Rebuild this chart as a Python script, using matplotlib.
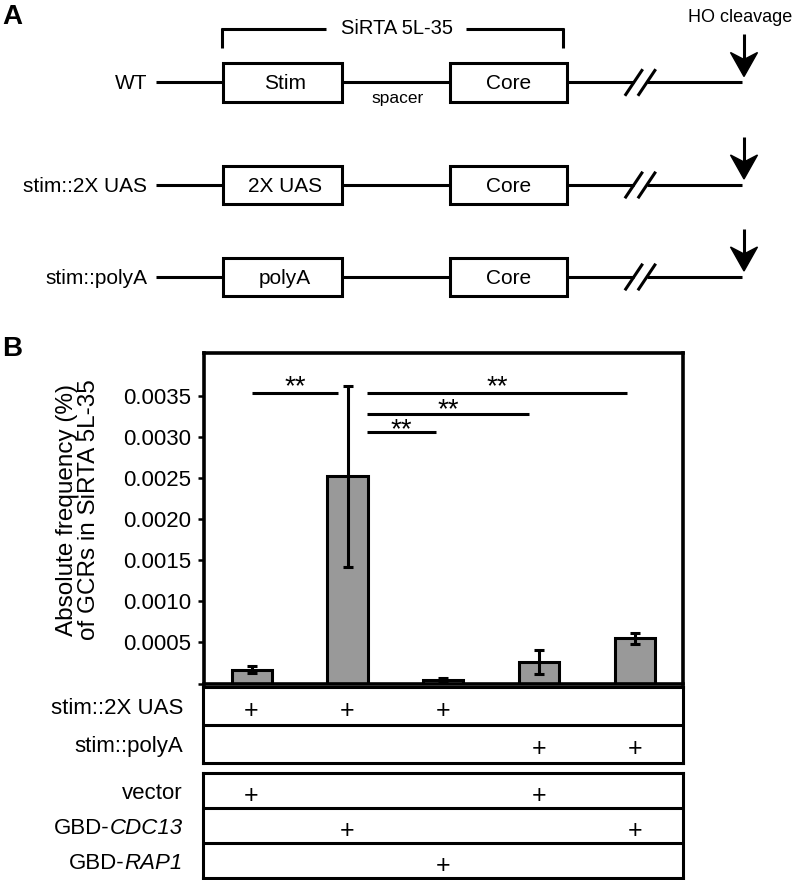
import matplotlib
matplotlib.use("Agg")
import matplotlib.pyplot as plt
import matplotlib.patches as patches
import matplotlib.transforms as mtransforms
import numpy as np

plt.rcParams['font.family'] = ['Liberation Sans', 'DejaVu Sans']

# ---- data (panel B) ----
means = [0.00017, 0.00252, 0.00004, 0.000265, 0.00055]
errors = [0.00004, 0.0011, 0.00003, 0.000145, 0.00007]
ytick_vals = [0, 0.0005, 0.0010, 0.0015, 0.0020, 0.0025, 0.0030, 0.0035]
ytick_labels = ["", "0.0005", "0.0010", "0.0015", "0.0020", "0.0025", "0.0030", "0.0035"]

# significance brackets: start, end, height, star baseline
sig_x0 = [0.0, 1.2, 1.2, 1.2]
sig_x1 = [0.9, 3.92, 2.9, 1.92]
sig_y = [0.003538, 0.003538, 0.003283, 0.003056]
sig_star_y = [0.00352, 0.00352, 0.00324, 0.00300]

# genotype table: (plain prefix, italic part)
reporter_rows = [("stim::2X UAS", ""), ("stim::polyA", "")]
reporter_marks = [[1, 1, 1, 0, 0],
                  [0, 0, 0, 1, 1]]
plasmid_rows = [("vector", ""), ("GBD-", "CDC13"), ("GBD-", "RAP1")]
plasmid_marks = [[1, 0, 0, 1, 0],
                 [0, 1, 0, 0, 1],
                 [0, 0, 1, 0, 0]]

# ---- panel A constructs ----
construct_names = ["WT", "stim::2X UAS", "stim::polyA"]
stim_names = ["Stim", "2X UAS", "polyA"]

W, H = 796, 880
fig = plt.figure(figsize=(W / 100, H / 100), dpi=100)
renderer = fig.canvas.get_renderer()

LW = 2.2

# overlay in pixel coords for the schematic and panel letters
ov = fig.add_axes([0, 0, 1, 1])
ov.set_xlim(0, W)
ov.set_ylim(H, 0)
ov.axis('off')

def seg(x0, y0, x1, y1, lw=LW):
    ov.plot([x0, x1], [y0, y1], color='black', lw=lw, solid_capstyle='butt')

def box(x0, x1, yc, text, tx=None):
    h = 38.4
    ov.add_patch(patches.Rectangle((x0, yc - h / 2), x1 - x0, h, fill=False,
                                   edgecolor='black', lw=LW, zorder=3))
    ov.text(tx if tx else (x0 + x1) / 2, yc + 1, text, ha='center', va='center', fontsize=15)

def arrow(x, y_tip):
    seg(x, y_tip - 42, x, y_tip - 15)
    head = patches.Polygon([(x, y_tip), (x - 13.5, y_tip - 24), (x, y_tip - 17),
                            (x + 13.5, y_tip - 24)], closed=True, color='black')
    ov.add_patch(head)

row_y = [82.5, 185, 277]
for i, yc in enumerate(row_y):
    ov.text(147, yc + 1, construct_names[i], ha='right', va='center', fontsize=15)
    seg(156, yc, 223, yc)
    box(223, 341.7, yc, stim_names[i], tx=285)
    seg(341.7, yc, 450, yc)
    box(450, 566.7, yc, "Core")
    seg(566.7, yc, 634, yc)
    seg(647, yc, 742, yc)
    for cx in (633.8, 646.8):
        seg(cx - 8.9, yc + 13.3, cx + 8.9, yc - 13.3)
    arrow(744, yc - 6)

# bracket over WT
seg(221, 29.3, 326, 29.3)
seg(466, 29.3, 564, 29.3)
seg(222, 28.2, 222, 48)
seg(563, 28.2, 563, 48)
ov.text(397, 29, "SiRTA 5L-35", ha='center', va='center', fontsize=14.5)
ov.text(398, 99, "spacer", ha='center', va='center', fontsize=12.5)
ov.text(740, 18, "HO cleavage", ha='center', va='center', fontsize=13)

ov.text(12, 17, "A", ha='center', va='center', fontsize=20, fontweight='bold')
ov.text(12, 349, "B", ha='center', va='center', fontsize=20, fontweight='bold')
ov.text(78, 510, "Absolute frequency (%)\nof GCRs in SiRTA 5L-35", rotation=90,
        ha='center', va='center', multialignment='center', fontsize=17.5, linespacing=1.05)

# ---- panel B bar chart ----
def frac(x0, y_top, x1, y_bot):
    return [x0 / W, 1 - y_bot / H, (x1 - x0) / W, (y_bot - y_top) / H]

ax = fig.add_axes(frac(204, 353, 682.5, 683.5))
x = np.arange(len(means))
ax.bar(x, means, width=0.42, color='#999999', edgecolor='black', linewidth=LW, zorder=2)
ax.errorbar(x, means, yerr=errors, fmt='none', ecolor='black', elinewidth=LW,
            capsize=3.6, capthick=LW, zorder=3)
ax.set_xlim(-0.5, 4.5)
ax.set_ylim(0, 0.00402)
ax.set_xticks([])
ax.set_yticks(ytick_vals)
ax.set_yticklabels(ytick_labels, fontsize=16)
ax.tick_params(axis='y', length=4, width=1.8, pad=5)
for s in ax.spines.values():
    s.set_linewidth(2.6)

for x0, x1, y, ys in zip(sig_x0, sig_x1, sig_y, sig_star_y):
    ax.plot([x0, x1], [y, y], color='black', lw=LW, solid_capstyle='butt')
    ax.text((x0 + x1) / 2, ys, "**", ha='center', va='baseline', fontsize=20)

# ---- genotype tables ----
def table(rect, names, marks):
    t = fig.add_axes(rect)
    n = len(names)
    t.set_xlim(-0.5, 4.5)
    t.set_ylim(n, 0)
    t.set_xticks([])
    t.set_yticks([])
    for s in t.spines.values():
        s.set_linewidth(LW)
    for r in range(1, n):
        t.axhline(r, color='black', lw=LW)
    lab_tr = mtransforms.offset_copy(t.transData, fig=fig, x=-20, y=-8, units='dots')
    plus_tr = mtransforms.offset_copy(t.transData, fig=fig, x=0, y=-12, units='dots')
    for r, ((plain, ital), row) in enumerate(zip(names, marks)):
        shift = 0
        if ital:
            it = t.text(-0.5, r + 0.5, ital, style='italic', ha='right', va='baseline',
                        fontsize=16, transform=lab_tr, clip_on=False)
            shift = it.get_window_extent(renderer).width
        tr = mtransforms.offset_copy(lab_tr, fig=fig, x=-shift, y=0, units='dots')
        t.text(-0.5, r + 0.5, plain, ha='right', va='baseline', fontsize=16,
               transform=tr, clip_on=False)
        for c, m in enumerate(row):
            if m:
                t.text(c, r + 0.5, "+", ha='center', va='baseline', fontsize=18,
                       transform=plus_tr)
    return t

table(frac(203, 686.7, 683, 763.3), reporter_rows, reporter_marks)
table(frac(203, 773.3, 683, 878.3), plasmid_rows, plasmid_marks)

fig.savefig("out.png", dpi=100)
plt.close(fig)
